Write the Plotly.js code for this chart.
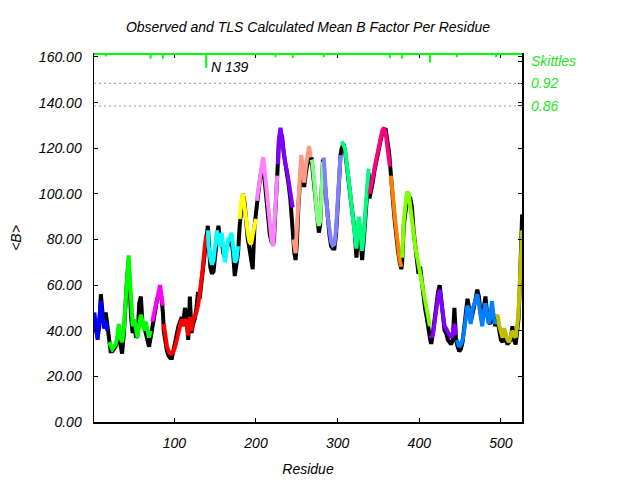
<!DOCTYPE html>
<html>
<head>
<meta charset="utf-8">
<script src="https://cdn.plot.ly/plotly-3.0.1.min.js"></script>
<style>html,body{margin:0;padding:0;background:#fff;}#chart{width:640px;height:480px;}</style>
</head>
<body>
<div id="chart"></div>
<script>
const residue = [
  2,4,6,8,10,12,14,16,18,
  20,22,24,26,28,30,32,34,36,38,40,42,44,45,47,49,51,53,55,57,59,61,63,65,67,69,71,
  73,75,77,79,81,82.5,84,86,
  87,89,91,93,95,97,99,101,103,105,107,109,111,113,115,117,119,121,123,125,127,129,131,133,135,137,139,
  141,142,144,146,148,150,152,154,156,158,160,162,164,166,168,170,172,174,176,178,
  180,182,184,186,188,190,192,194,196,198,200,
  201,202,204,206,208,209,211,213,215,217,219,221,222,224,226,
  227,228,230,232,234,236,238,240,242,244,245,
  246,247,248.5,250,252,254,255.5,257,259,261,263,265,267,
  268,269,271,273,275,277,278.5,280,281,282,
  283,284,286,288,290,292,294,296,298,300,302,303.5,
  305,307,309,311,313,315,317,319,321,323,325,326,328,330,332,334,336,338,
  339,341,343,345,347,349,351,353,355,357,359,361,363,364,
  365,366,368,370,372,374,376,378,
  379,380,381,383,385,387,389,391,393,395,397,399,401,403,405,407,409,411,413,
  414,415,417,419,421,423,425,427,429,431,433,435,437,439,441,443,445,
  446,447,449,451,453,455,457,459,461,463,465,467,469,471,473,475,477,479,481,483,485,487,489,491,493,494,
  495,496,498,500,502,504,506,508,510,512,514,516,518,520,521.5,523,524,525,526
];
const tlsB = [
  48,42,36,44,53,46,41,44,40,
  35,33,32,33,34,37,43,37,35,40,52,60,73,66,50,42,45,40,37,43,47,44,40,44,39,37,40,
  44,47,50,54,57,60,56,51,
  43,37,33,31,30,30,31,33,36,39,42,45,42,45,43,38,46,40,45,46,48,51,56,61,68,76,82,
  84,77,72,69,71,76,84,80,77,83,75,70,75,80,80,83,77,70,71,77,
  89,97,100,93,88,83,79,78,82,86,89,
  97,100,106,111,115,116,108,100,92,86,80,77,85,98,108,
  113,124,129,123,116,113,110,106,101,96,94,
  80,76,74,85,98,108,117,112,105,112,117,121,116,
  115,114,107,98,90,86,88,98,108,114,
  116,108,98,90,84,79,77.5,78,84,96,110,117,
  123,121,120,114,108,102,97,91,85,76,87,90,83,75,83,94,102,111,
  100,103,107,111,115,119,122,125,128,129,126,121,115,112,
  108,103,98,90,82,77,71,68,
  72,82,88,95,101,100,95,88,83,77,73,69,66,63,59,54,49,45,42,
  38,37,39,45,50,55,58,53,45,42,41,39,38,37,39,43,38,
  36,35,33,34,36,40,46,51,49,43,49,51,53,56,52,45,42,48,52,47,43,46,53,46,43,44,
  46,47,42,39,37,41,38,36,35,37,40,38,37,42,48,60,72,80,84
];
const observedB = [
  44,40,37,42,56,48,43,48,41,
  34,31,31,32,33,36,40,34,30,38,55,62,71,60,46,39,43,37,38,52,55,43,42,39,36,33,37,
  42,45,50,54,55,57,55,48,
  40,34,31,29,28,28,32,34,38,42,44,46,44,50,46,36,55,39,43,45,50,57,54,60,65,73,79,
  86,80,68,65,66,73,82,86,79,80,74,72,76,78,80,80,74,64,68,74,
  86,95,100,96,87,80,76,72,67,85,90,
  94,98,104,108,113,112,104,95,86,82,79,78,80,94,106,
  110,122,127,125,118,114,108,104,98,88,80,
  78,74,71,78,95,106,114,108,103,109,115,118,113,
  116,112,105,96,88,83,86,95,106,115,
  114,106,96,88,82,77,76,76,82,94,108,117,
  120,122,119,112,106,100,95,89,83,72,84,88,80,71,80,92,100,109,
  98,101,105,110,114,118,121,124,127,128,128,124,118,114,
  108,102,96,88,80,75,70,67,
  70,80,86,92,97,99,98,94,84,78,72,65,68,61,55,50,46,40,37,
  35,35,40,47,52,57,60,52,44,40,39,36,35,34,36,50,36,
  34,33,31,32,35,41,50,54,50,44,47,52,54,58,55,48,44,50,55,48,44,43,48,47,42,43,
  44,45,40,36,35,39,36,34,35,36,42,36,34,40,45,58,75,88,91
];
// TLS group segments: last residue of each group and its colour
const segmentEnd = [18,71,86,139,178,200,226,245,267,282,303.5,338,364,378,413,445,494,526];
const segmentColor = ['#0000ff','#00ff00','#ff00ff','#ff0000','#00ffff','#ffff00','#ff80ff','#8000ff',
  '#ff9980','#80ff80','#8080ff','#00ff80','#ff0080','#ff8000','#80ff00','#8000ff','#0080ff','#bfbf00'];
// Skittles markers (group boundaries) and thresholds
const skittlesResidue = [16,71,86,139,177,200,224,245,266,283,302,339,364,379,413,446,494];
const skittlesValue = [0.991,0.985,0.985,0.961,0.995,0.995,0.989,0.987,0.995,0.989,0.995,0.995,0.987,0.985,0.975,0.989,0.989];
const skittlesThreshold = [0.92, 0.86];
const skittlesLabelResidue = [139];
const skittlesLabelText = ['N 139'];

const xRange = [1.6, 525.8];
const y2Range = [0.0236, 0.9976];
const FONT = {family: 'Liberation Sans, Arial, sans-serif', size: 14, color: '#000', style: 'italic'};
const GREEN = '#00ff00';

const traces = [];
traces.push({x: residue, y: observedB, mode: 'lines', line: {color: '#000', width: 4}, hoverinfo: 'skip'});
let prev = -Infinity;
segmentEnd.forEach((end, i) => {
  const xs = [], ys = [];
  residue.forEach((r, k) => { if (r > prev && r <= end) { xs.push(r); ys.push(tlsB[k]); } });
  prev = end;
  traces.push({x: xs, y: ys, mode: 'lines', line: {color: segmentColor[i], width: 4}, hoverinfo: 'skip'});
});
const sx = [], sy = [];
skittlesResidue.forEach((r, i) => { sx.push(r, r, null); sy.push(y2Range[1], skittlesValue[i], null); });
traces.push({x: sx, y: sy, yaxis: 'y2', mode: 'lines', line: {color: GREEN, width: 2}, hoverinfo: 'skip'});

const shapes = skittlesThreshold.map(t => ({type: 'line', xref: 'paper', x0: 0, x1: 1, yref: 'y2', y0: t, y1: t,
  line: {color: '#999999', width: 1, dash: '2px,3px'}}));
shapes.push({type: 'line', xref: 'paper', yref: 'paper', x0: 0, x1: 1, y0: 1, y1: 1, line: {color: GREEN, width: 2}});

const annotations = skittlesLabelResidue.map((r, i) => ({
  x: r, y: skittlesValue[skittlesResidue.indexOf(r)], xref: 'x', yref: 'y2', text: skittlesLabelText[i],
  showarrow: false, xanchor: 'left', yanchor: 'middle', xshift: 3, yshift: 1, font: FONT
}));

const layout = {
  width: 640, height: 480,
  margin: {l: 94, r: 118, t: 54, b: 58, pad: 0},
  paper_bgcolor: '#fff', plot_bgcolor: '#fff',
  showlegend: false,
  font: FONT,
  title: {text: 'Observed and TLS Calculated Mean B Factor Per Residue', font: FONT,
    x: 0.5, xref: 'paper', y: 1 - 27/480, yref: 'container', yanchor: 'middle'},
  xaxis: {range: xRange, tickvals: [100,200,300,400,500], ticks: 'inside', ticklen: 4, tickcolor: '#000',
    showline: true, linecolor: '#000', linewidth: 1.5, mirror: 'ticks', showgrid: false, zeroline: false,
    tickfont: FONT, ticklabelstandoff: 8,
    title: {text: 'Residue', font: FONT, standoff: 14}},
  yaxis: {range: [0, 161.3], tickvals: [0,20,40,60,80,100,120,140,160], tickformat: '.2f', ticks: 'inside',
    ticklen: 4, tickcolor: '#000', showline: true, linecolor: '#000', linewidth: 1.5, mirror: 'ticks',
    showgrid: false, zeroline: false, tickfont: FONT, ticklabelstandoff: 8,
    title: {text: '&lt;B&gt;', font: FONT, standoff: 14}},
  yaxis2: {overlaying: 'y', side: 'right', range: y2Range, tickvals: [0.979, 0.92, 0.86],
    ticktext: ['Skittles', '0.92', '0.86'], ticks: 'inside', ticklen: 4, tickcolor: '#000',
    showline: false, showgrid: false, zeroline: false, ticklabelstandoff: 8,
    tickfont: {family: FONT.family, size: 14, color: '#1ee61e', style: 'italic'}},
  shapes: shapes,
  annotations: annotations
};
Plotly.newPlot('chart', traces, layout, {displayModeBar: false, staticPlot: true});
</script>
</body>
</html>
